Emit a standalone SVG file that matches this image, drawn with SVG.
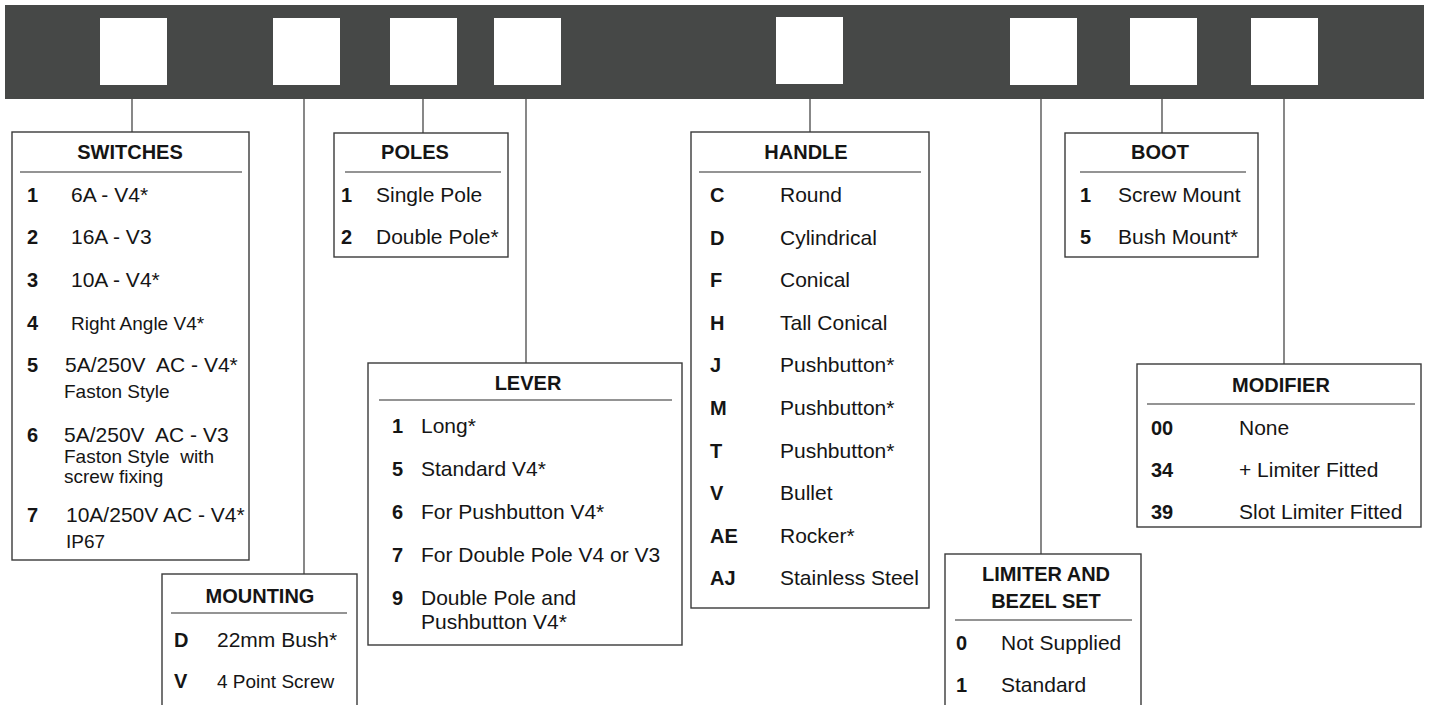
<svg xmlns="http://www.w3.org/2000/svg" width="1430" height="705" viewBox="0 0 1430 705">
<style>
.box{fill:#fff;stroke:#3a3a3a;stroke-width:1.4}
.div{stroke:#2a2a2a;stroke-width:1.2}
.con{stroke:#555;stroke-width:1.4;fill:none}
.sq{fill:#fff}
text{font-family:"Liberation Sans",Arial,sans-serif;fill:#151515}
.t{font-size:20px;font-weight:bold;text-anchor:middle}
.c{font-size:20px;font-weight:bold}
.i{font-size:21px}
.s{font-size:19px}
</style>
<g id="bar">
<rect x="5" y="5" width="1419" height="94" fill="#464847"/>
<rect class="sq" x="100" y="18" width="67" height="67"/>
<rect class="sq" x="273" y="18" width="67" height="67"/>
<rect class="sq" x="390" y="18" width="67" height="67"/>
<rect class="sq" x="494" y="18" width="67" height="67"/>
<rect class="sq" x="776" y="17" width="67" height="67"/>
<rect class="sq" x="1010" y="18" width="67" height="67"/>
<rect class="sq" x="1130" y="18" width="67" height="67"/>
<rect class="sq" x="1251" y="18" width="67" height="67"/>
</g>
<g id="connectors">
<line class="con" x1="132" y1="99" x2="132" y2="132"/>
<line class="con" x1="304" y1="99" x2="304" y2="574"/>
<line class="con" x1="423" y1="99" x2="423" y2="133"/>
<line class="con" x1="526" y1="99" x2="526" y2="363"/>
<line class="con" x1="810" y1="99" x2="810" y2="132"/>
<line class="con" x1="1041" y1="99" x2="1041" y2="554"/>
<line class="con" x1="1162" y1="99" x2="1162" y2="133"/>
<line class="con" x1="1284" y1="99" x2="1284" y2="364"/>
</g>
<g id="switches">
<rect class="box" x="12" y="132" width="237" height="428"/>
<text class="t" x="130" y="159">SWITCHES</text>
<line class="div" x1="20" y1="172" x2="242" y2="172"/>
<text class="c" x="27" y="202">1</text><text class="i" x="71" y="202">6A - V4*</text>
<text class="c" x="27" y="244">2</text><text class="i" x="71" y="244">16A - V3</text>
<text class="c" x="27" y="287">3</text><text class="i" x="71" y="287">10A - V4*</text>
<text class="c" x="27" y="330">4</text><text class="s" x="71" y="330">Right Angle V4*</text>
<text class="c" x="27" y="372">5</text><text class="i" x="65" y="372" xml:space="preserve">5A/250V  AC - V4*</text>
<text class="s" x="64" y="398">Faston Style</text>
<text class="c" x="27" y="442">6</text><text class="i" x="64" y="442" xml:space="preserve">5A/250V  AC - V3</text>
<text class="s" x="64" y="463" xml:space="preserve">Faston Style  with</text>
<text class="s" x="64" y="483">screw fixing</text>
<text class="c" x="27" y="522">7</text><text class="i" x="66" y="522">10A/250V AC - V4*</text>
<text class="s" x="66" y="548">IP67</text>
</g>
<g id="mounting">
<rect class="box" x="162" y="574" width="195" height="140"/>
<text class="t" x="260" y="603">MOUNTING</text>
<line class="div" x1="171" y1="613" x2="347" y2="613"/>
<text class="c" x="174" y="647">D</text><text class="i" x="217" y="647">22mm Bush*</text>
<text class="c" x="174" y="688">V</text><text class="s" x="217" y="688">4 Point Screw</text>
</g>
<g id="poles">
<rect class="box" x="334" y="133" width="174" height="124"/>
<text class="t" x="415" y="159">POLES</text>
<line class="div" x1="345" y1="172" x2="501" y2="172"/>
<text class="c" x="341" y="202">1</text><text class="i" x="376" y="202">Single Pole</text>
<text class="c" x="341" y="244">2</text><text class="i" x="376" y="244">Double Pole*</text>
</g>
<g id="lever">
<rect class="box" x="368" y="363" width="314" height="282"/>
<text class="t" x="528" y="390">LEVER</text>
<line class="div" x1="379" y1="400" x2="672" y2="400"/>
<text class="c" x="392" y="433">1</text><text class="i" x="421" y="433">Long*</text>
<text class="c" x="392" y="476">5</text><text class="i" x="421" y="476">Standard V4*</text>
<text class="c" x="392" y="519">6</text><text class="i" x="421" y="519">For Pushbutton V4*</text>
<text class="c" x="392" y="562">7</text><text class="i" x="421" y="562">For Double Pole V4 or V3</text>
<text class="c" x="392" y="605">9</text><text class="i" x="421" y="605">Double Pole and</text>
<text class="i" x="421" y="629">Pushbutton V4*</text>
</g>
<g id="handle">
<rect class="box" x="691" y="132" width="238" height="476"/>
<text class="t" x="806" y="159">HANDLE</text>
<line class="div" x1="699" y1="172" x2="921" y2="172"/>
<text class="c" x="710" y="202">C</text><text class="i" x="780" y="202">Round</text>
<text class="c" x="710" y="245">D</text><text class="i" x="780" y="245">Cylindrical</text>
<text class="c" x="710" y="287">F</text><text class="i" x="780" y="287">Conical</text>
<text class="c" x="710" y="330">H</text><text class="i" x="780" y="330">Tall Conical</text>
<text class="c" x="710" y="372">J</text><text class="i" x="780" y="372">Pushbutton*</text>
<text class="c" x="710" y="415">M</text><text class="i" x="780" y="415">Pushbutton*</text>
<text class="c" x="710" y="458">T</text><text class="i" x="780" y="458">Pushbutton*</text>
<text class="c" x="710" y="500">V</text><text class="i" x="780" y="500">Bullet</text>
<text class="c" x="710" y="543">AE</text><text class="i" x="780" y="543">Rocker*</text>
<text class="c" x="710" y="585">AJ</text><text class="i" x="780" y="585">Stainless Steel</text>
</g>
<g id="limiter">
<rect class="box" x="945" y="554" width="196" height="160"/>
<text class="t" x="1046" y="581">LIMITER AND</text>
<text class="t" x="1046" y="608">BEZEL SET</text>
<line class="div" x1="955" y1="620" x2="1132" y2="620"/>
<text class="c" x="956" y="650">0</text><text class="i" x="1001" y="650">Not Supplied</text>
<text class="c" x="956" y="692">1</text><text class="i" x="1001" y="692">Standard</text>
</g>
<g id="boot">
<rect class="box" x="1065" y="133" width="193" height="124"/>
<text class="t" x="1160" y="159">BOOT</text>
<line class="div" x1="1080" y1="172" x2="1246" y2="172"/>
<text class="c" x="1080" y="202">1</text><text class="i" x="1118" y="202">Screw Mount</text>
<text class="c" x="1080" y="244">5</text><text class="i" x="1118" y="244">Bush Mount*</text>
</g>
<g id="modifier">
<rect class="box" x="1137" y="364" width="284" height="163"/>
<text class="t" x="1281" y="392">MODIFIER</text>
<line class="div" x1="1147" y1="404" x2="1415" y2="404"/>
<text class="c" x="1151" y="435">00</text><text class="i" x="1239" y="435">None</text>
<text class="c" x="1151" y="477">34</text><text class="i" x="1239" y="477">+ Limiter Fitted</text>
<text class="c" x="1151" y="519">39</text><text class="i" x="1239" y="519">Slot Limiter Fitted</text>
</g>
</svg>
